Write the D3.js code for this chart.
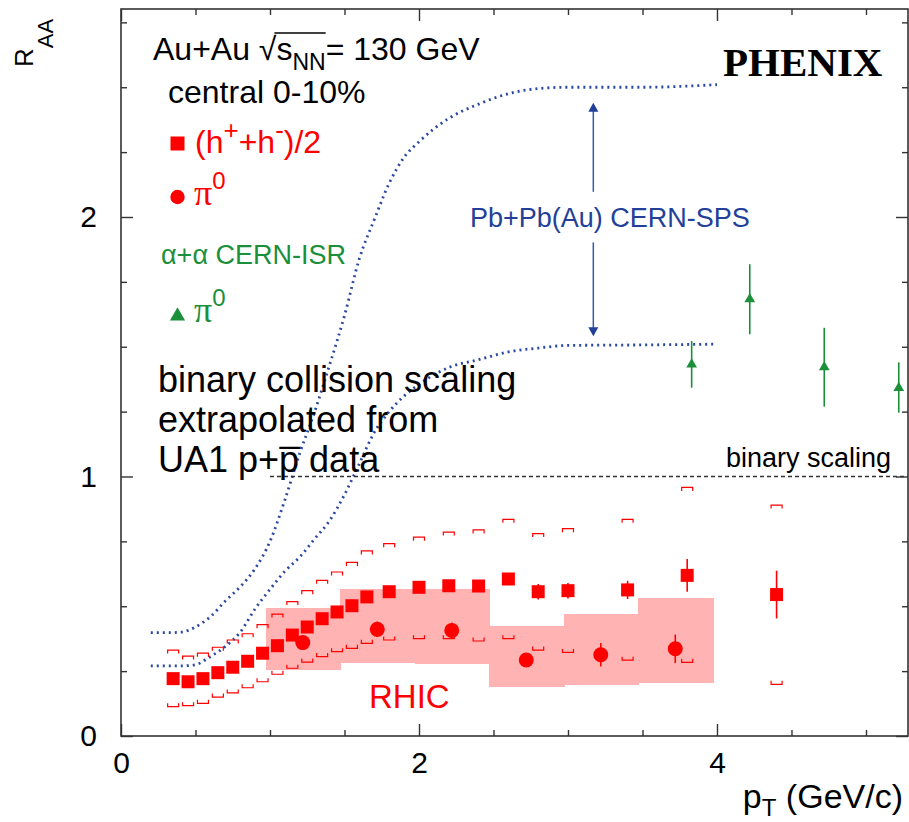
<!DOCTYPE html>
<html>
<head>
<meta charset="utf-8">
<script src="https://cdn.jsdelivr.net/npm/d3@7"></script>
<style>
  body { margin: 0; background: #fff; }
  text { font-family: "Liberation Sans", Arial, Helvetica, sans-serif; }
  .serif { font-family: "Liberation Serif", "Times New Roman", serif; }
</style>
</head>
<body>
<div id="chart"></div>
<script>
// (h+ + h-)/2, central 0-10%
var hPt = [0.35, 0.45, 0.55, 0.65, 0.75, 0.85, 0.95, 1.05, 1.15, 1.25, 1.35, 1.45, 1.55, 1.65, 1.8, 2.0, 2.2, 2.4, 2.6, 2.8, 3.0, 3.4, 3.8, 4.4];
var hR = [0.221, 0.209, 0.221, 0.244, 0.265, 0.288, 0.319, 0.348, 0.389, 0.420, 0.452, 0.478, 0.502, 0.536, 0.556, 0.573, 0.579, 0.578, 0.605, 0.556, 0.560, 0.563, 0.619, 0.545];
var hErr = [0.005, 0.005, 0.005, 0.005, 0.005, 0.005, 0.005, 0.005, 0.005, 0.005, 0.005, 0.005, 0.005, 0.005, 0.005, 0.01, 0.01, 0.01, 0.015, 0.03, 0.03, 0.035, 0.063, 0.092];
var hSysHi = [0.331, 0.308, 0.319, 0.342, 0.370, 0.394, 0.429, 0.470, 0.518, 0.560, 0.600, 0.632, 0.669, 0.713, 0.741, 0.766, 0.786, 0.794, 0.835, 0.780, 0.799, 0.835, 0.958, 0.890];
var hSysLo = [0.113, 0.117, 0.126, 0.150, 0.166, 0.186, 0.209, 0.238, 0.261, 0.285, 0.306, 0.325, 0.338, 0.357, 0.370, 0.375, 0.375, 0.366, 0.375, 0.331, 0.322, 0.292, 0.284, 0.199];

// pi0, central 0-10%, with systematic boxes
var piPt = [1.22, 1.72, 2.22, 2.72, 3.22, 3.72];
var piR = [0.360, 0.411, 0.407, 0.293, 0.313, 0.336];
var piErr = [0.015, 0.03, 0.03, 0.02, 0.045, 0.055];
var piBoxLo = [0.254, 0.280, 0.276, 0.189, 0.197, 0.203];
var piBoxHi = [0.492, 0.565, 0.565, 0.424, 0.470, 0.533];
var piBinHalf = 0.25;

// alpha+alpha CERN-ISR pi0
var aaPt = [3.83, 4.22, 4.72, 5.22];
var aaR = [1.432, 1.683, 1.421, 1.341];
var aaLo = [1.342, 1.548, 1.269, 1.246];
var aaHi = [1.522, 1.818, 1.573, 1.440];

// Pb+Pb(Au) CERN-SPS band (dotted curves)
var spsPt = [0.2, 0.3, 0.4, 0.5, 0.6, 0.7, 0.8, 0.9, 1.0, 1.1, 1.2, 1.3, 1.4, 1.5, 1.6, 1.7, 1.8, 1.9, 2.0, 2.2, 2.4, 2.6, 2.8, 3.0, 3.5, 4.0];
var spsUpper = [0.398, 0.398, 0.40, 0.42, 0.46, 0.52, 0.575, 0.645, 0.75, 0.91, 1.09, 1.25, 1.43, 1.62, 1.84, 1.99, 2.13, 2.23, 2.29, 2.38, 2.435, 2.475, 2.495, 2.50, 2.50, 2.51];
var spsLower = [0.27, 0.27, 0.27, 0.275, 0.306, 0.345, 0.40, 0.49, 0.565, 0.635, 0.69, 0.76, 0.83, 0.93, 1.05, 1.17, 1.25, 1.31, 1.355, 1.42, 1.45, 1.48, 1.495, 1.505, 1.507, 1.51];
var spsArrowPt = 3.17, spsArrowLo = 1.54, spsArrowHi = 2.44;

var binaryFrom = 1.0;

// ticks
var xMajor = [0, 2, 4];
var xMinor = [0.5, 1, 1.5, 2.5, 3, 3.5, 4.5, 5];
var yMajor = [0, 1, 2];
var yMinor = [0.25, 0.5, 0.75, 1.25, 1.5, 1.75, 2.25, 2.5, 2.75];

var width = 909, height = 822;
var red = "#ff0000", pink = "#ffb3b3", green = "#1b8f3a", blue = "#2a47a3";

var svg = d3.select("#chart").append("svg")
	.attr("width", width)
	.attr("height", height);

var x = d3.scaleLinear().domain([0, 5.282]).range([121, 908]);
var y = d3.scaleLinear().domain([0, 2.8015]).range([736, 9]);

// pi0 systematic boxes
svg.append("g").attr("shape-rendering", "crispEdges").selectAll("rect")
	.data(piPt)
	.enter().append("rect")
	.attr("x", function (d) { return Math.round(x(d - piBinHalf)); })
	.attr("width", function (d) { return Math.round(x(d + piBinHalf)) - Math.round(x(d - piBinHalf)) + 1; })
	.attr("y", function (d, i) { return y(piBoxHi[i]); })
	.attr("height", function (d, i) { return y(piBoxLo[i]) - y(piBoxHi[i]); })
	.attr("fill", pink);

// SPS dotted curves
var line = d3.line()
	.x(function (d) { return x(d[0]); })
	.y(function (d) { return y(d[1]); })
	.curve(d3.curveMonotoneX);

[spsUpper, spsLower].forEach(function (vals) {
	svg.append("path")
		.datum(spsPt.map(function (p, i) { return [p, vals[i]]; }))
		.attr("d", line)
		.attr("fill", "none")
		.attr("stroke", blue)
		.attr("stroke-width", 2.8)
		.attr("stroke-dasharray", "2,4");
});

// binary scaling line
svg.append("line")
	.attr("x1", x(binaryFrom)).attr("x2", x(5.282))
	.attr("y1", y(1)).attr("y2", y(1))
	.attr("stroke", "#333")
	.attr("stroke-width", 1.4)
	.attr("stroke-dasharray", "4,3");

// SPS double arrow
var ax = x(spsArrowPt);
var arrowCol = "#3a58b0";
svg.append("line").attr("x1", ax).attr("x2", ax)
	.attr("y1", y(spsArrowHi) + 8).attr("y2", y(2.097))
	.attr("stroke", arrowCol).attr("stroke-width", 1.5);
svg.append("line").attr("x1", ax).attr("x2", ax)
	.attr("y1", y(1.902)).attr("y2", y(spsArrowLo) - 8)
	.attr("stroke", arrowCol).attr("stroke-width", 1.5);
svg.append("path")
	.attr("d", "M" + ax + "," + y(spsArrowHi) + "l5,9h-10z")
	.attr("fill", "#22409a");
svg.append("path")
	.attr("d", "M" + ax + "," + y(spsArrowLo) + "l5,-9h-10z")
	.attr("fill", "#22409a");

// systematic brackets for (h+ + h-)/2
var bw = 5.5, bt = 3.5;
var brackets = svg.append("g").attr("fill", "none").attr("stroke", red).attr("stroke-width", 1.2);
brackets.selectAll("path.hi")
	.data(hPt)
	.enter().append("path")
	.attr("class", "hi")
	.attr("d", function (d, i) {
		var cx = x(d), cy = y(hSysHi[i]);
		return "M" + (cx - bw) + "," + (cy + bt) + "V" + cy + "H" + (cx + bw) + "V" + (cy + bt);
	});
brackets.selectAll("path.lo")
	.data(hPt)
	.enter().append("path")
	.attr("class", "lo")
	.attr("d", function (d, i) {
		var cx = x(d), cy = y(hSysLo[i]);
		return "M" + (cx - bw) + "," + (cy - bt) + "V" + cy + "H" + (cx + bw) + "V" + (cy - bt);
	});

// error bars
function errBars(pts, lo, hi, col) {
	svg.append("g").selectAll("line")
		.data(pts)
		.enter().append("line")
		.attr("x1", function (d) { return x(d); })
		.attr("x2", function (d) { return x(d); })
		.attr("y1", function (d, i) { return y(lo[i]); })
		.attr("y2", function (d, i) { return y(hi[i]); })
		.attr("stroke", col)
		.attr("stroke-width", 1.6);
}
errBars(hPt, hR.map(function (v, i) { return v - hErr[i]; }), hR.map(function (v, i) { return v + hErr[i]; }), red);
errBars(piPt, piR.map(function (v, i) { return v - piErr[i]; }), piR.map(function (v, i) { return v + piErr[i]; }), red);
errBars(aaPt, aaLo, aaHi, green);

// markers
var sq = 13;
svg.append("g").selectAll("rect")
	.data(hPt)
	.enter().append("rect")
	.attr("x", function (d) { return x(d) - sq / 2; })
	.attr("y", function (d, i) { return y(hR[i]) - sq / 2; })
	.attr("width", sq).attr("height", sq)
	.attr("fill", red);

svg.append("g").selectAll("circle")
	.data(piPt)
	.enter().append("circle")
	.attr("cx", function (d) { return x(d); })
	.attr("cy", function (d, i) { return y(piR[i]); })
	.attr("r", 7.5)
	.attr("fill", red);

svg.append("g").selectAll("path")
	.data(aaPt)
	.enter().append("path")
	.attr("d", d3.symbol(d3.symbolTriangle, 50))
	.attr("transform", function (d, i) { return "translate(" + x(d) + "," + y(aaR[i]) + ")"; })
	.attr("fill", green);

// axes: ticks inside on all four sides
var axG = svg.append("g");
axG.append("g").attr("transform", "translate(0,736)")
	.call(d3.axisBottom(x).tickValues(xMajor).tickSize(-12).tickPadding(16).tickFormat(d3.format("d")));
axG.append("g").attr("transform", "translate(0,736)")
	.call(d3.axisBottom(x).tickValues(xMinor).tickSize(-6).tickFormat(""));
axG.append("g").attr("transform", "translate(0,9)")
	.call(d3.axisTop(x).tickValues(xMajor).tickSize(-12).tickFormat(""));
axG.append("g").attr("transform", "translate(0,9)")
	.call(d3.axisTop(x).tickValues(xMinor).tickSize(-6).tickFormat(""));
axG.append("g").attr("transform", "translate(121,0)")
	.call(d3.axisLeft(y).tickValues(yMajor).tickSize(-12).tickPadding(24).tickFormat(d3.format("d")));
axG.append("g").attr("transform", "translate(121,0)")
	.call(d3.axisLeft(y).tickValues(yMinor).tickSize(-6).tickFormat(""));
axG.append("g").attr("transform", "translate(908,0)")
	.call(d3.axisRight(y).tickValues(yMajor).tickSize(-12).tickFormat(""));
axG.append("g").attr("transform", "translate(908,0)")
	.call(d3.axisRight(y).tickValues(yMinor).tickSize(-6).tickFormat(""));
axG.selectAll(".domain").remove();
axG.selectAll(".tick line").attr("stroke", "#333").attr("stroke-width", 1.4);
axG.selectAll(".tick text")
	.attr("font-size", 30)
	.style("font-family", "'Liberation Sans', Arial, sans-serif")
	.attr("fill", "#000");

svg.append("rect")
	.attr("x", 121).attr("y", 9)
	.attr("width", 787).attr("height", 727)
	.attr("fill", "none")
	.attr("stroke", "#333")
	.attr("stroke-width", 1.6);

// axis titles
var ylab = svg.append("text")
	.attr("transform", "translate(33,67) rotate(-90)")
	.attr("fill", "#000");
ylab.append("tspan").attr("font-size", 26).text("R");
ylab.append("tspan").attr("font-size", 22).attr("dy", 20).text("AA");

var xlab = svg.append("text")
	.attr("x", 903).attr("y", 808)
	.attr("text-anchor", "end")
	.attr("font-size", 34)
	.attr("fill", "#000");
xlab.append("tspan").text("p");
xlab.append("tspan").attr("font-size", 24).attr("dy", 8).text("T");
xlab.append("tspan").attr("dy", -8).text(" (GeV/c)");

// annotations
var t1 = svg.append("text").attr("x", 153).attr("y", 60).attr("font-size", 32).attr("fill", "#000");
t1.append("tspan").text("Au+Au \u221As");
t1.append("tspan").attr("font-size", 23).attr("dy", 10).text("NN");
t1.append("tspan").attr("dy", -10).text("= 130 GeV");
var t1n = t1.node();
var sIdx = "Au+Au \u221A".length;
var sx0 = t1n.getStartPositionOfChar(sIdx).x;
var sx1 = t1n.getEndPositionOfChar(sIdx + 2).x;
svg.append("line").attr("x1", sx0 - 2).attr("x2", sx1).attr("y1", 33).attr("y2", 33)
	.attr("stroke", "#000").attr("stroke-width", 1.6);

svg.append("text").attr("x", 168).attr("y", 103).attr("font-size", 32).attr("fill", "#000")
	.text("central 0-10%");

svg.append("text").attr("class", "serif").attr("x", 723).attr("y", 76)
	.attr("font-weight", "bold")
	.attr("font-size", 41)
	.attr("fill", "#000")
	.text("PHENIX");

// legend
svg.append("rect").attr("x", 170.5).attr("y", 136.5).attr("width", 14).attr("height", 14).attr("fill", red);
var lh = svg.append("text").attr("x", 195).attr("y", 153).attr("font-size", 32).attr("fill", red);
lh.append("tspan").text("(h");
lh.append("tspan").attr("font-size", 26).attr("dy", -14).text("+");
lh.append("tspan").attr("dy", 14).text("+h");
lh.append("tspan").attr("font-size", 26).attr("dy", -14).text("-");
lh.append("tspan").attr("dy", 14).text(")/2");

svg.append("circle").attr("cx", 177.5).attr("cy", 197).attr("r", 7.2).attr("fill", red);
var lp = svg.append("text").attr("x", 194).attr("y", 205).attr("fill", red);
lp.append("tspan").attr("class", "serif").attr("font-size", 36).text("\u03C0");
lp.append("tspan").attr("font-size", 24).attr("dy", -16).text("0");

svg.append("text").attr("x", 161).attr("y", 264).attr("font-size", 27).attr("fill", green)
	.text("\u03B1+\u03B1 CERN-ISR");

svg.append("path").attr("d", d3.symbol(d3.symbolTriangle, 100))
	.attr("transform", "translate(177.5,316)")
	.attr("fill", green);
var la = svg.append("text").attr("x", 194).attr("y", 322).attr("fill", green);
la.append("tspan").attr("class", "serif").attr("font-size", 36).text("\u03C0");
la.append("tspan").attr("font-size", 24).attr("dy", -16).text("0");

svg.append("text").attr("x", 470).attr("y", 227).attr("font-size", 27).attr("fill", "#22409a")
	.text("Pb+Pb(Au) CERN-SPS");

var bc = svg.append("text").attr("x", 158).attr("font-size", 36).attr("fill", "#000");
bc.append("tspan").attr("x", 158).attr("y", 392).text("binary collision scaling");
bc.append("tspan").attr("x", 158).attr("y", 432).text("extrapolated from");
bc.append("tspan").attr("x", 158).attr("y", 472).text("UA1 p+p\u0305 data");

svg.append("text").attr("x", 891).attr("y", 467).attr("text-anchor", "end")
	.attr("font-size", 27).attr("fill", "#000")
	.text("binary scaling");

svg.append("text").attr("x", 369).attr("y", 708).attr("font-size", 33).attr("fill", red)
	.text("RHIC");
</script>
</body>
</html>
